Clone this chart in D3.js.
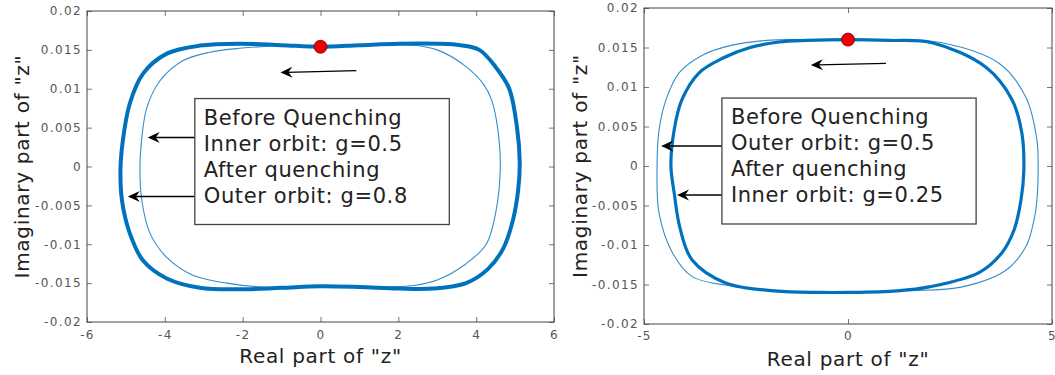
<!DOCTYPE html>
<html>
<head>
<meta charset="utf-8">
<script src="https://cdn.jsdelivr.net/npm/d3@7"></script>
<style>
  body { margin: 0; background: #fff; }
  svg { display: block; font-family: "DejaVu Sans", sans-serif; }
</style>
</head>
<body>
<div id="chart"></div>
<script>
// Orbits, as [Re z, Im z] points going round the loop
const leftOuter = [
  [0, 0.0154], [-1.0, 0.0156], [-2.08, 0.0158], [-3.1, 0.01555], [-3.95, 0.01452], [-4.56, 0.01195],
  [-4.9, 0.0081], [-5.08, 0.0033], [-5.14, -0.0005], [-5.1, -0.0044], [-4.9, -0.0086], [-4.56, -0.0121],
  [-3.95, -0.0144], [-3.1, -0.0156], [-2.08, -0.0158], [-1.0, -0.0156], [0, -0.0154], [1.0, -0.0155],
  [2.0, -0.0157], [2.9, -0.0157], [3.74, -0.015], [4.3, -0.0132], [4.7, -0.0105], [4.95, -0.0068],
  [5.08, -0.003], [5.12, 0.0005], [5.05, 0.005], [4.85, 0.01], [4.5, 0.0128], [4.08, 0.015],
  [3.6, 0.0156], [3.05, 0.0158], [2.0, 0.0158], [1.0, 0.0156]
];
const leftInner = [
  [0, 0.0153], [-1.0, 0.0155], [-2.08, 0.0152], [-2.85, 0.0147], [-3.54, 0.0136], [-4.13, 0.011],
  [-4.46, 0.0076], [-4.6, 0.0033], [-4.64, -0.0005], [-4.59, -0.0044], [-4.38, -0.0086], [-3.95, -0.0117],
  [-3.28, -0.014], [-2.41, -0.015], [-1.5, -0.0155], [0, -0.0154], [1.5, -0.0155], [2.4, -0.0153],
  [3.0, -0.0146], [3.74, -0.0125], [4.26, -0.01], [4.5, -0.006], [4.62, 0], [4.55, 0.005],
  [4.4, 0.0085], [4.2, 0.0105], [3.7, 0.013], [3.0, 0.015], [2.4, 0.0156], [1.5, 0.0156]
];
const rightThick = [
  [0, 0.016], [-1.0, 0.0159], [-1.69, 0.0157], [-2.4, 0.015], [-3.05, 0.0137], [-3.65, 0.0118],
  [-4.07, 0.0084], [-4.26, 0.0046], [-4.34, 0], [-4.26, -0.0034], [-4.12, -0.0078], [-3.82, -0.0119],
  [-3.0, -0.0148], [-1.8, -0.0158], [-0.7, -0.016], [0, -0.016], [1.2, -0.0158], [1.99, -0.0153],
  [3.21, -0.0135], [3.77, -0.011], [4.07, -0.0081], [4.24, -0.0043], [4.31, -0.0005], [4.26, 0.0042],
  [4.02, 0.0084], [3.38, 0.0125], [2.06, 0.0156], [1.0, 0.0159]
];
const rightThin = [
  [0, 0.016], [-1.2, 0.016], [-2.0, 0.0159], [-2.84, 0.0153], [-3.58, 0.014], [-4.14, 0.0118],
  [-4.46, 0.0084], [-4.63, 0.0046], [-4.68, 0], [-4.63, -0.006], [-4.3, -0.011], [-3.82, -0.014],
  [-2.84, -0.0152], [-2.0, -0.0157], [0, -0.016], [1.5, -0.0158], [2.8, -0.0153], [3.87, -0.0132],
  [4.36, -0.0102], [4.56, -0.0068], [4.63, -0.0043], [4.66, 0], [4.63, 0.0033], [4.36, 0.0087],
  [3.7, 0.013], [2.3, 0.0156], [1.2, 0.0159]
];

const leftXTicks = [-6, -4, -2, 0, 2, 4, 6];
const rightXTicks = [-5, 0, 5];
const yTicks = [-0.02, -0.015, -0.01, -0.005, 0, 0.005, 0.01, 0.015, 0.02];

const leftText = ['Before Quenching', 'Inner orbit: g=0.5', 'After quenching', 'Outer orbit: g=0.8'];
const rightText = ['Before Quenching', 'Outer orbit: g=0.5', 'After quenching', 'Inner orbit: g=0.25'];

// start point marker
const leftStart = [0, 0.0154];
const rightStart = [0, 0.016];

// annotation arrows [from, to] in data units
const leftArrows = [
  [[-3.23, 0.00373], [-4.44, 0.00373]],
  [[-3.23, -0.00386], [-4.95, -0.00386]],
  [[0.92, 0.01234], [-1.03, 0.01208]]
];
const rightArrows = [
  [[-3.09, 0.00253], [-4.58, 0.00253]],
  [[-3.09, -0.00367], [-4.19, -0.00367]],
  [[0.93, 0.0130], [-0.91, 0.01278]]
];

const W = 1055, H = 375;
const blue = '#0072bd';

const svg = d3.select('#chart').append('svg')
  .attr('width', W).attr('height', H);

function drawPanel(p) {
  const x = d3.scaleLinear().domain(p.xDomain).range([p.left, p.right]);
  const y = d3.scaleLinear().domain([-0.02, 0.02]).range([p.bottom, p.top]);
  const g = svg.append('g');

  // axes, ticks pointing inward like MATLAB
  g.append('g')
    .attr('transform', `translate(0,${p.bottom})`)
    .call(d3.axisBottom(x).tickValues(p.xTicks).tickSize(-5).tickPadding(p.xPad).tickFormat(d => d))
    .call(a => a.select('.domain').remove());
  g.append('g')
    .attr('transform', `translate(0,${p.top})`)
    .call(d3.axisTop(x).tickValues(p.xTicks).tickSize(-5).tickFormat(''))
    .call(a => a.select('.domain').remove());
  g.append('g')
    .attr('transform', `translate(${p.left},0)`)
    .call(d3.axisLeft(y).tickValues(yTicks).tickSize(-5).tickPadding(5).tickFormat(d => String(d)))
    .call(a => a.select('.domain').remove());
  g.append('g')
    .attr('transform', `translate(${p.right},0)`)
    .call(d3.axisRight(y).tickValues(yTicks).tickSize(-5).tickFormat(''))
    .call(a => a.select('.domain').remove());

  g.selectAll('.tick line').attr('stroke', '#555').attr('stroke-width', 0.8);
  g.selectAll('.tick text')
    .attr('fill', '#555')
    .style('font-size', '12px')
    .style('letter-spacing', '1.4px')
    .style('font-family', '"DejaVu Sans", sans-serif');

  g.append('rect')
    .attr('x', p.left).attr('y', p.top)
    .attr('width', p.right - p.left).attr('height', p.bottom - p.top)
    .attr('fill', 'none').attr('stroke', '#444').attr('stroke-width', 1);

  // orbits
  const line = d3.line()
    .x(d => x(d[0])).y(d => y(d[1]))
    .curve(d3.curveCatmullRomClosed.alpha(0.5));

  g.append('path').datum(p.thin)
    .attr('d', line).attr('fill', 'none')
    .attr('stroke', blue).attr('stroke-width', 1.1).attr('opacity', 0.8);
  g.append('path').datum(p.thick)
    .attr('d', line).attr('fill', 'none')
    .attr('stroke', blue).attr('stroke-width', p.thickW);

  g.append('circle')
    .attr('cx', x(p.start[0])).attr('cy', y(p.start[1])).attr('r', 6.5)
    .attr('fill', '#ee0000').attr('stroke', '#600').attr('stroke-width', 0.8);

  // arrows
  p.arrows.forEach(([a, b]) => {
    const x1 = x(a[0]), y1 = y(a[1]), x2 = x(b[0]), y2 = y(b[1]);
    const ang = Math.atan2(y2 - y1, x2 - x1);
    const L = 12, Wd = 5.5, back = 4;
    const ux = Math.cos(ang), uy = Math.sin(ang);
    const bx = x2 - ux * L, by = y2 - uy * L;
    g.append('line')
      .attr('x1', x1).attr('y1', y1).attr('x2', x2 - ux * 6).attr('y2', y2 - uy * 6)
      .attr('stroke', '#000').attr('stroke-width', 1.3);
    const pts = [
      [x2, y2],
      [bx - uy * Wd, by + ux * Wd],
      [x2 - ux * (L - back), y2 - uy * (L - back)],
      [bx + uy * Wd, by - ux * Wd]
    ];
    g.append('path')
      .attr('d', 'M' + pts.map(q => q.join(',')).join('L') + 'Z')
      .attr('fill', '#000');
  });

  // text box
  const bx0 = x(p.box[0]), by0 = y(p.box[1]), bx1 = x(p.box[2]), by1 = y(p.box[3]);
  g.append('rect')
    .attr('x', bx0).attr('y', by0).attr('width', bx1 - bx0).attr('height', by1 - by0)
    .attr('fill', '#fff').attr('stroke', '#444').attr('stroke-width', 1.3);
  g.selectAll('.note').data(p.text).enter().append('text')
    .attr('x', bx0 + 9)
    .attr('y', (d, i) => by0 + 26 + i * 26)
    .attr('fill', '#222')
    .style('font-size', '21px')
    .style('letter-spacing', '0.6px')
    .text(d => d);

  // axis labels
  g.append('text')
    .attr('x', (p.left + p.right) / 2).attr('y', p.xLabelY)
    .attr('text-anchor', 'middle').attr('fill', '#222')
    .style('font-size', '20px')
    .style('letter-spacing', '0.7px')
    .text('Real part of "z"');
  g.append('text')
    .attr('transform', `translate(${p.yLabelX},${(p.top + p.bottom) / 2}) rotate(-90)`)
    .attr('text-anchor', 'middle').attr('fill', '#222')
    .style('font-size', '20px')
    .style('letter-spacing', '0.7px')
    .text('Imaginary part of "z"');
}

drawPanel({
  xDomain: [-6, 6], xTicks: leftXTicks,
  left: 87, right: 554, top: 11, bottom: 322,
  thick: leftOuter, thin: leftInner, thickW: 4,
  start: leftStart, arrows: leftArrows,
  box: [-3.23, 0.00874, 3.31, -0.00746], text: leftText,
  yLabelX: 29, xLabelY: 363, xPad: 8
});

drawPanel({
  xDomain: [-5, 5], xTicks: rightXTicks,
  left: 644, right: 1052, top: 8, bottom: 324,
  thick: rightThick, thin: rightThin, thickW: 3.2,
  start: rightStart, arrows: rightArrows,
  box: [-3.09, 0.0086, 3.14, -0.00734], text: rightText,
  yLabelX: 587, xLabelY: 366, xPad: 7
});
</script>
</body>
</html>
